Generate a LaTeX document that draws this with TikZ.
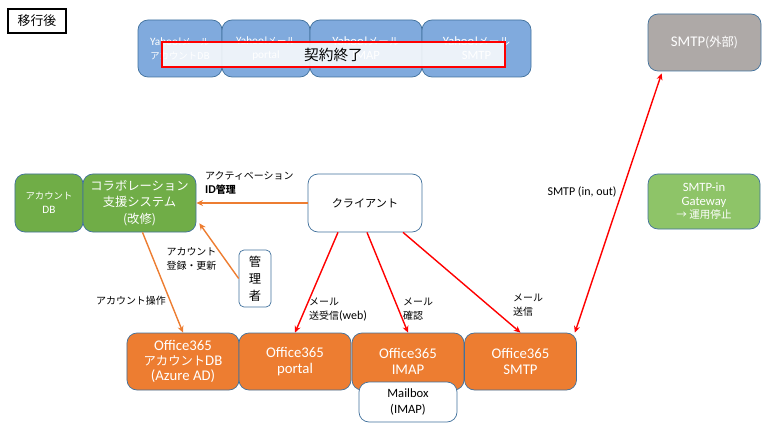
\documentclass[tikz,border=0pt]{standalone}
\usepackage{fontspec}
\setmainfont{Noto Sans CJK JP}
\newfontfamily\calib[Scale=1.2]{Carlito}
\usepackage{tikz}
\usetikzlibrary{arrows.meta, positioning, calc}
\definecolor{bord}{RGB}{65, 113, 156}
\definecolor{o365}{RGB}{237, 125, 49}
\definecolor{collabgreen}{RGB}{112, 173, 71}
\definecolor{gwgreen}{RGB}{142, 196, 104}
\definecolor{yblue}{RGB}{128, 170, 221}
\definecolor{extgray}{RGB}{174, 169, 167}

\begin{document}
\begin{tikzpicture}[x=0.03cm, y=-0.03cm,
  box/.style={draw=bord, rounded corners=0.3cm, align=center, line width=0.6pt, inner sep=0pt},
  obox/.style={box, fill=o365, text=white, minimum width=3.36cm, minimum height=1.71cm,
               font=\fontsize{10.5}{13}\selectfont},
  ybox/.style={box, fill=yblue, text=white, minimum height=1.71cm, font=\fontsize{9}{12}\selectfont},
  lbl/.style={font=\fontsize{8.5}{12}\selectfont, align=left, inner sep=0pt},
  oarrow/.style={draw=o365, line width=1.2pt, -{Stealth[length=2mm, width=1.8mm]}},
  rarrow/.style={draw=red, line width=1.2pt, -{Stealth[length=2mm, width=1.8mm]}}]
  \useasboundingbox (0,0) rectangle (765,427);
  % Title
  \node[draw=black, line width=1.2pt, minimum width=1.74cm, minimum height=0.72cm,
        inner sep=0pt, font=\fontsize{11}{13}\selectfont] (title) at (37,21) {移行後};
  % Old services
  \node[ybox, minimum width=2.52cm, font=\fontsize{8}{12}\selectfont] (yacct) at (180,48.5) {{\calib Yahoo!}メール\\アカウントDB};
  \node[ybox, minimum width=2.64cm, font=\fontsize{8}{12}\selectfont] (yportal) at (266,48.5) {{\calib Yahoo!}メール\\{\calib portal}};
  \node[ybox, minimum width=3.36cm] (yimap) at (366,48.5) {{\calib Yahoo!}メール\\{\calib IMAP}};
  \node[ybox, minimum width=3.27cm] (ysmtp) at (476.5,48.5) {{\calib Yahoo!}メール\\{\calib SMTP}};
  \node[draw=red, line width=1.2pt, fill=white, fill opacity=0.85, text opacity=1,
        minimum width=10.29cm, minimum height=0.75cm, inner sep=0pt,
        font=\fontsize{12.5}{14}\selectfont] (end) at (333.5,54.5) {契約終了};
  % External
  \node[box, fill=extgray, text=white, minimum width=3.39cm, minimum height=1.71cm,
        font=\fontsize{10.5}{13}\selectfont] (ext) at (704.5,42.5) {{\calib SMTP}(外部)};
  \node[box, fill=gwgreen, text=white, minimum width=3.36cm, minimum height=1.65cm,
        font=\fontsize{9}{11.5}\selectfont] (gw) at (704,201.5) {{\calib SMTP-in}\\{\calib Gateway}\\→ 運用停止};
  % Collaboration
  \node[box, fill=collabgreen, text=white, minimum width=2.04cm, minimum height=1.74cm,
        font=\fontsize{8}{12}\selectfont] (acct) at (49,203) {アカウント\\{\calib DB}};
  \node[box, fill=collabgreen, text=white, minimum width=3.39cm, minimum height=1.74cm,
        font=\fontsize{10.5}{14}\selectfont] (collab) at (139.5,203) {コラボレーション\\支援システム\\(改修)};
  \node[box, fill=white, minimum width=3.42cm, minimum height=1.74cm,
        font=\fontsize{9.5}{12}\selectfont] (client) at (365,203) {クライアント};
  \node[box, fill=white, rounded corners=0.15cm, minimum width=0.96cm, minimum height=1.71cm,
        font=\fontsize{10.5}{14.5}\selectfont] (admin) at (255,278.5) {管\\理\\者};
  % Office365
  \node[obox] (o365db) at (183,361.5) {{\calib Office365}\\アカウント{\calib DB}\\{\calib (Azure AD)}};
  \node[obox] (portal) at (295,361.5) {{\calib Office365}\\{\calib portal}};
  \node[obox] (imap) at (408,361.5) {{\calib Office365}\\{\calib IMAP}};
  \node[obox] (smtp) at (520.5,361.5) {{\calib Office365}\\{\calib SMTP}};
  \node[box, fill=white, minimum width=2.94cm, minimum height=1.2cm,
        font=\fontsize{9}{14}\selectfont] (mailbox) at (408,402) {{\calib Mailbox}\\{\calib (IMAP)}};
  % Orange connectors
  \draw[oarrow] (client.west) -- (collab.east);
  \draw[oarrow] (admin.west) -- ($(collab.south east)+(3,-9)$);
  \draw[oarrow] ($(collab.south)+(3,0)$) -- (o365db.north);
  % Red connectors
  \draw[rarrow] ($(client.south)+(-27,0)$) -- (portal.north);
  \draw[rarrow] ($(client.south)+(2,0)$) -- (imap.north);
  \draw[rarrow] ($(client.south)+(38,0)$) -- (smtp.north);
  \draw[rarrow, {Stealth[length=2mm, width=1.8mm]}-{Stealth[length=2mm, width=1.8mm]}]
    ($(smtp.north east)+(-2,0)$) -- ($(ext.south west)+(14,2)$);
  % Labels
  \node[lbl, anchor=north west] (actlbl) at (205,171) {アクティベーション\\\textbf{\calib ID}\textbf{管理}};
  \node[lbl, align=center] (reglbl) at (191.5,258.5) {アカウント\\登録・更新};
  \node[lbl] (oplbl) at (131,301) {アカウント操作};
  \node[lbl, anchor=north west] (weblbl) at (309,298) {メール\\送受信{\calib (web)}};
  \node[lbl, anchor=north west] (chklbl) at (403,298) {メール\\確認};
  \node[lbl, anchor=north west] (sndlbl) at (513,294) {メール\\送信};
  \node[lbl, font=\calib\fontsize{8.5}{11}\selectfont] (smtplbl) at (582,192) {SMTP (in, out)};
\end{tikzpicture}
\end{document}
